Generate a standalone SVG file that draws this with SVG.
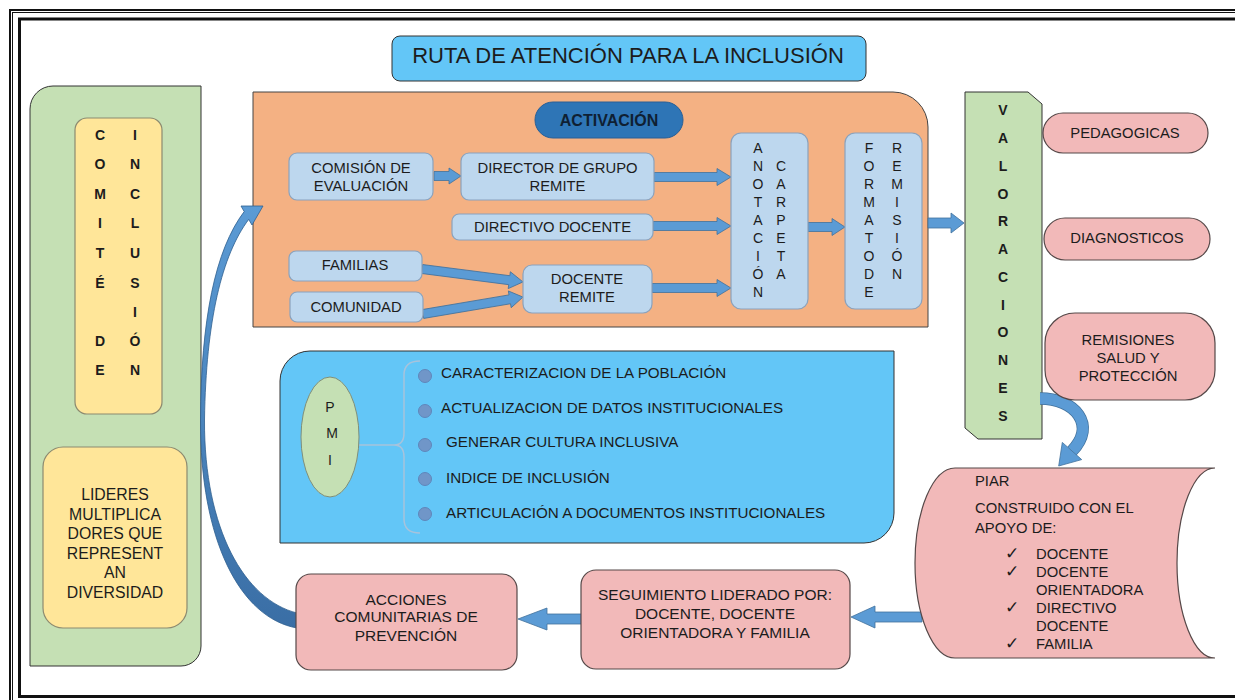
<svg xmlns="http://www.w3.org/2000/svg" width="1235" height="700" viewBox="0 0 1235 700">
<defs>
<style>
.t{font-family:"Liberation Sans",Arial,sans-serif;font-size:14.8px;fill:#1c1c1c}
.c{text-anchor:middle}
.b{font-weight:bold}
.lb{fill:#bdd7ee;stroke:#8aa2bd;stroke-width:1.2}
.pk{fill:#f2b9b9;stroke:#554848;stroke-width:1.2}
.gr{fill:#c5e0b4;stroke:#333;stroke-width:1}
.ye{fill:#ffe699;stroke:#8c8a70;stroke-width:1.2}
.ar{fill:#5b9bd5;stroke:#41719c;stroke-width:0.8}
.ck{font-family:"DejaVu Sans",sans-serif;font-size:17px;fill:#1c1c1c}
.frm{fill:none;stroke:#111}
</style>
<linearGradient id="g1" x1="0" y1="0" x2="0" y2="1">
<stop offset="0" stop-color="#5b9bd5"/><stop offset="1" stop-color="#3a6ea5"/>
</linearGradient>
</defs>
<rect width="1235" height="700" fill="#fff"/>
<g id="frame">
<rect class="frm" x="10" y="10" width="1300" height="720" stroke-width="2"/>
<rect class="frm" x="12.5" y="12.5" width="1300" height="720" stroke-width="1"/>
<rect class="frm" x="19.5" y="19" width="1300" height="677.5" stroke-width="3"/>
</g>

<g id="title">
<rect x="392" y="36" width="474" height="45" rx="8" fill="#63c6f7" stroke="#333" stroke-width="1"/>
<text class="t c" x="628" y="63" style="font-size:22px">RUTA DE ATENCIÓN PARA LA INCLUSIÓN</text>
</g>

<g id="comite-panel">
<path class="gr" d="M53 86 L201 86 L201 646 A20 20 0 0 1 181 666 L30 666 L30 109 A23 23 0 0 1 53 86 Z"/>
</g>
<g id="comite-inclusion">
<rect class="ye" x="75" y="118" width="87" height="296" rx="12"/>
<g class="t c b" style="font-size:14px">
<text x="100" y="140">C</text><text x="100" y="169">O</text><text x="100" y="199">M</text><text x="100" y="228">I</text><text x="100" y="258">T</text><text x="100" y="288">É</text><text x="100" y="346">D</text><text x="100" y="375">E</text>
<text x="135" y="140">I</text><text x="135" y="169">N</text><text x="135" y="199">C</text><text x="135" y="228">L</text><text x="135" y="258">U</text><text x="135" y="288">S</text><text x="135" y="317">I</text><text x="135" y="346">Ó</text><text x="135" y="375">N</text>
</g>
</g>
<g id="lideres">
<rect class="ye" x="43" y="447" width="144" height="181" rx="20"/>
<g class="t c" style="font-size:15.8px">
<text x="115" y="500">LIDERES</text><text x="115" y="520">MULTIPLICA</text><text x="115" y="539">DORES QUE</text><text x="115" y="559">REPRESENT</text><text x="115" y="578">AN</text><text x="115" y="598">DIVERSIDAD</text>
</g>
</g>

<g id="activacion-panel">
<path d="M253 92 L893 92 A35 35 0 0 1 928 127 L928 327 L253 327 Z" fill="#f4b183" stroke="#444" stroke-width="1"/>
</g>

<g id="pmi-panel">
<path d="M310 351 L894 351 L894 513 A30 30 0 0 1 864 543 L280 543 L280 381 A30 30 0 0 1 310 351 Z" fill="#63c6f7" stroke="#333" stroke-width="1"/>
</g>

<g id="valoraciones">
<path class="gr" d="M965 92 L1028 92 L1042 104 L1042 439 L978 439 L965 428 Z"/>
<g class="t c b" style="font-size:14px">
<text x="1003" y="115">V</text><text x="1003" y="143">A</text><text x="1003" y="171">L</text><text x="1003" y="199">O</text><text x="1003" y="226">R</text><text x="1003" y="254">A</text><text x="1003" y="282">C</text><text x="1003" y="310">I</text><text x="1003" y="337">O</text><text x="1003" y="365">N</text><text x="1003" y="393">E</text><text x="1003" y="421">S</text>
</g>
</g>

<g id="connectors">
<polygon class="ar" points="434,171.5 449,171.5 449,168 461,176 449,184 449,180.5 434,180.5"/>
<polygon class="ar" points="654,172.5 717,172.5 717,168.5 731,177 717,185.5 717,181.5 654,181.5"/>
<polygon class="ar" points="653,221.5 717,221.5 717,217.5 731,226 717,234.5 717,230.5 653,230.5"/>
<polygon class="ar" points="652,283.5 717,283.5 717,279.5 731,288 717,296.5 717,292.5 652,292.5"/>
<polygon class="ar" points="808,222.5 832,222.5 832,218.5 845,227 832,235.5 832,231.5 808,231.5"/>
<polygon class="ar" points="928,218 951,218 951,213 964,223 951,233 951,228 928,228"/>
<g transform="translate(422,269) rotate(7.3)"><polygon class="ar" points="0,-4.5 88,-4.5 88,-8.5 101.8,0 88,8.5 88,4.5 0,4.5"/></g>
<g transform="translate(423,314) rotate(-9.6)"><polygon class="ar" points="0,-4.5 88,-4.5 88,-8.5 101.4,0 88,8.5 88,4.5 0,4.5"/></g>
<path d="M1040 398.5 C1075 398.5 1097 425 1072 451" fill="none" stroke="#41719c" stroke-width="12.5"/>
<path d="M1040 398.5 C1075 398.5 1097 425 1072 451" fill="none" stroke="#5b9bd5" stroke-width="11"/>
<polygon class="ar" points="1081.7,459.6 1058.7,466 1062.3,442.4"/>
<polygon class="ar" points="922,612 875,612 875,606 851,617 875,628 875,622 922,622"/>
<polygon class="ar" points="582,614 547,614 547,608 518,619 547,630 547,624 582,624"/>
<path d="M297 628 C240 618 200 540 200.5 420 C201 320 215 250 244.2 211.6 L241 206 L263 206 L252 225 L248.7 219.4 C222 255 206 320 204.5 420 C204 530 245 600 297 613 Z" fill="url(#g1)" stroke="#2f5f8f" stroke-width="0.8"/>
<path d="M359 445 L394 445 M420 361 Q404 361 404 375 L404 433 Q404 445 394 445 Q404 445 404 457 L404 519 Q404 533 420 533" fill="none" stroke="#a7c3dc" stroke-width="1.5"/>
</g>

<g id="activacion">
<rect x="535" y="102" width="148" height="36" rx="18" fill="#2e75b6" stroke="#2a5f95" stroke-width="1"/>
<text class="t c b" x="609" y="126" style="font-size:16px;fill:#0f1f33">ACTIVACIÓN</text>
</g>
<g id="comision">
<rect class="lb" x="289" y="153" width="144" height="47" rx="8"/>
<text class="t c" x="361" y="173">COMISIÓN DE</text><text class="t c" x="361" y="191">EVALUACIÓN</text>
</g>
<g id="director">
<rect class="lb" x="461" y="153" width="193" height="47" rx="8"/>
<text class="t c" x="557.5" y="173">DIRECTOR DE GRUPO</text><text class="t c" x="557.5" y="191">REMITE</text>
</g>
<g id="directivo">
<rect class="lb" x="452" y="214" width="201" height="26" rx="7"/>
<text class="t c" x="552.5" y="232">DIRECTIVO DOCENTE</text>
</g>
<g id="familias">
<rect class="lb" x="289" y="251" width="133" height="30" rx="7"/>
<text class="t c" x="355" y="270">FAMILIAS</text>
</g>
<g id="comunidad">
<rect class="lb" x="290" y="292" width="133" height="30" rx="7"/>
<text class="t c" x="356" y="312">COMUNIDAD</text>
</g>
<g id="docente-remite">
<rect class="lb" x="523" y="265" width="129" height="48" rx="9"/>
<text class="t c" x="587" y="284">DOCENTE</text><text class="t c" x="587" y="302">REMITE</text>
</g>
<g id="anotacion">
<rect class="lb" x="731" y="133" width="77" height="176" rx="10"/>
<g class="t c" style="font-size:14px">
<text x="758" y="153">A</text><text x="758" y="171">N</text><text x="758" y="189">O</text><text x="758" y="207">T</text><text x="758" y="225">A</text><text x="758" y="243">C</text><text x="758" y="261">I</text><text x="758" y="279">Ó</text><text x="758" y="297">N</text>
<text x="781" y="171">C</text><text x="781" y="189">A</text><text x="781" y="207">R</text><text x="781" y="225">P</text><text x="781" y="243">E</text><text x="781" y="261">T</text><text x="781" y="279">A</text>
</g>
</g>
<g id="formato">
<rect class="lb" x="845" y="133" width="77" height="176" rx="10"/>
<g class="t c" style="font-size:14px">
<text x="869" y="153">F</text><text x="869" y="171">O</text><text x="869" y="189">R</text><text x="869" y="207">M</text><text x="869" y="225">A</text><text x="869" y="243">T</text><text x="869" y="261">O</text><text x="869" y="279">D</text><text x="869" y="297">E</text>
<text x="897" y="153">R</text><text x="897" y="171">E</text><text x="897" y="189">M</text><text x="897" y="207">I</text><text x="897" y="225">S</text><text x="897" y="243">I</text><text x="897" y="261">Ó</text><text x="897" y="279">N</text>
</g>
</g>

<g id="pmi">
<ellipse cx="330" cy="437" rx="29" ry="60" fill="#c5e0b4" stroke="#7f8f7a" stroke-width="1"/>
<g class="t c" style="font-size:14px"><text x="330" y="412">P</text><text x="332" y="438">M</text><text x="330" y="465">I</text></g>
</g>
<g id="pmi-items">
<g fill="#7096c8" stroke="#5f86bb" stroke-width="1">
<circle cx="425" cy="376" r="6.5"/><circle cx="425" cy="411" r="6.5"/><circle cx="425" cy="445" r="6.5"/><circle cx="425" cy="479" r="6.5"/><circle cx="425" cy="514" r="6.5"/>
</g>
<g class="t" style="font-size:15.2px">
<text x="441" y="378">CARACTERIZACION DE LA POBLACIÓN</text>
<text x="441" y="413">ACTUALIZACION DE DATOS INSTITUCIONALES</text>
<text x="446" y="447">GENERAR CULTURA INCLUSIVA</text>
<text x="446" y="483">INDICE DE INCLUSIÓN</text>
<text x="446" y="518">ARTICULACIÓN A DOCUMENTOS INSTITUCIONALES</text>
</g>
</g>

<g id="pedagogicas">
<rect class="pk" x="1043" y="113" width="165" height="40" rx="20"/>
<text class="t c" x="1125" y="138">PEDAGOGICAS</text>
</g>
<g id="diagnosticos">
<rect class="pk" x="1044" y="218" width="166" height="42" rx="21"/>
<text class="t c" x="1127" y="243">DIAGNOSTICOS</text>
</g>
<g id="remisiones">
<rect class="pk" x="1045" y="313" width="170" height="87" rx="30"/>
<text class="t c" x="1128" y="345">REMISIONES</text><text class="t c" x="1128" y="363">SALUD Y</text><text class="t c" x="1128" y="381">PROTECCIÓN</text>
</g>

<g id="piar">
<path class="pk" d="M1215 468 L955 468 A40 95 0 0 0 955 658 L1215 658 A38 95 0 0 1 1215 468 Z"/>
<text class="t" x="975" y="486">PIAR</text>
<text class="t" x="975" y="513">CONSTRUIDO CON EL</text>
<text class="t" x="975" y="533">APOYO DE:</text>
<text class="ck" x="1005" y="559">✓</text><text class="ck" x="1005" y="577">✓</text><text class="ck" x="1005" y="613">✓</text><text class="ck" x="1005" y="649">✓</text>
<text class="t" x="1036" y="559">DOCENTE</text>
<text class="t" x="1036" y="577">DOCENTE</text>
<text class="t" x="1036" y="595">ORIENTADORA</text>
<text class="t" x="1036" y="613">DIRECTIVO</text>
<text class="t" x="1036" y="631">DOCENTE</text>
<text class="t" x="1036" y="649">FAMILIA</text>
</g>

<g id="seguimiento">
<rect class="pk" x="581" y="570" width="269" height="99" rx="15"/>
<g class="t c" style="font-size:15.5px">
<text x="715" y="600">SEGUIMIENTO LIDERADO POR:</text><text x="715" y="619">DOCENTE, DOCENTE</text><text x="715" y="638">ORIENTADORA Y FAMILIA</text>
</g>
</g>
<g id="acciones">
<rect class="pk" x="296" y="574" width="221" height="96" rx="15"/>
<g class="t c" style="font-size:15.5px">
<text x="406" y="605">ACCIONES</text><text x="406" y="622">COMUNITARIAS DE</text><text x="406" y="641">PREVENCIÓN</text>
</g>
</g>
</svg>
